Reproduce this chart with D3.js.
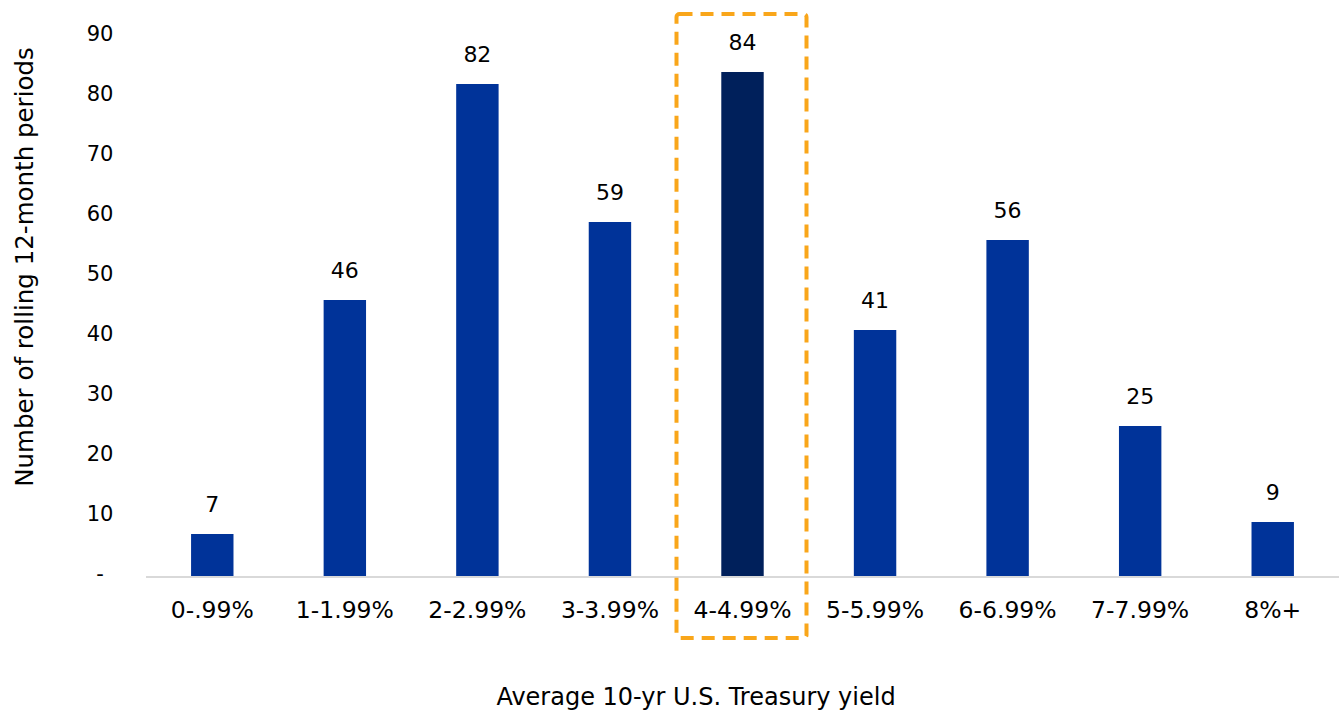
<!DOCTYPE html>
<html><head><meta charset="utf-8">
<script src="https://cdn.jsdelivr.net/npm/d3@7"></script>
<style>body{margin:0;background:#fff;}svg{display:block;font-family:"DejaVu Sans",sans-serif;}</style>
</head><body>
<svg id="c" width="1340" height="710"></svg>
<script>
const categories = ["0-.99%","1-1.99%","2-2.99%","3-3.99%","4-4.99%","5-5.99%","6-6.99%","7-7.99%","8%+"];
const values = [7,46,82,59,84,41,56,25,9];
const highlight = "4-4.99%";
const yTicks = [0,10,20,30,40,50,60,70,80,90];

const svg = d3.select("#c");
const x = d3.scaleBand().domain(categories).range([146,1339]).paddingInner(0.68).paddingOuter(0.34);
const y = d3.scaleLinear().domain([0,90]).range([576,36]);

// y tick labels
svg.append("g").selectAll("text").data(yTicks).join("text")
  .attr("x",100).attr("y",d=>y(d)-3).attr("dy","0.36em")
  .attr("text-anchor","middle").attr("font-size",21).attr("fill","#000")
  .text(d=>d===0?"-":d);

// axis line
svg.append("line").attr("x1",146).attr("x2",1339).attr("y1",577).attr("y2",577)
  .attr("stroke","#d9d9d9").attr("stroke-width",2);

// bars
svg.append("g").selectAll("rect").data(categories).join("rect")
  .attr("x",d=>x(d)).attr("width",x.bandwidth())
  .attr("y",(d,i)=>y(values[i])).attr("height",(d,i)=>y(0)-y(values[i]))
  .attr("fill",d=>d===highlight?"#00205b":"#003399");

// value labels
svg.append("g").selectAll("text").data(categories).join("text")
  .attr("x",d=>x(d)+x.bandwidth()/2).attr("y",(d,i)=>y(values[i])-22)
  .attr("text-anchor","middle").attr("font-size",22).attr("fill","#000")
  .text((d,i)=>values[i]);

// x labels
svg.append("g").selectAll("text").data(categories).join("text")
  .attr("x",d=>x(d)+x.bandwidth()/2).attr("y",610).attr("dy","0.36em")
  .attr("text-anchor","middle").attr("font-size",23.5).attr("fill","#000")
  .text(d=>d);

// highlight box
const hx = x(highlight)+x.bandwidth()/2;
svg.append("rect").attr("x",hx-66).attr("y",14).attr("width",130).attr("height",624)
  .attr("rx",3).attr("fill","none").attr("stroke","#f9a61a").attr("stroke-width",4)
  .attr("stroke-dasharray","13,8");

// axis titles
svg.append("text").attr("x",696).attr("y",696).attr("dy","0.36em").attr("text-anchor","middle")
  .attr("font-size",24).attr("fill","#000").text("Average 10-yr U.S. Treasury yield");
svg.append("text").attr("transform","translate(24,267) rotate(-90)").attr("dy","0.36em")
  .attr("text-anchor","middle").attr("font-size",24.5).attr("fill","#000")
  .text("Number of rolling 12-month periods");
</script>
</body></html>
